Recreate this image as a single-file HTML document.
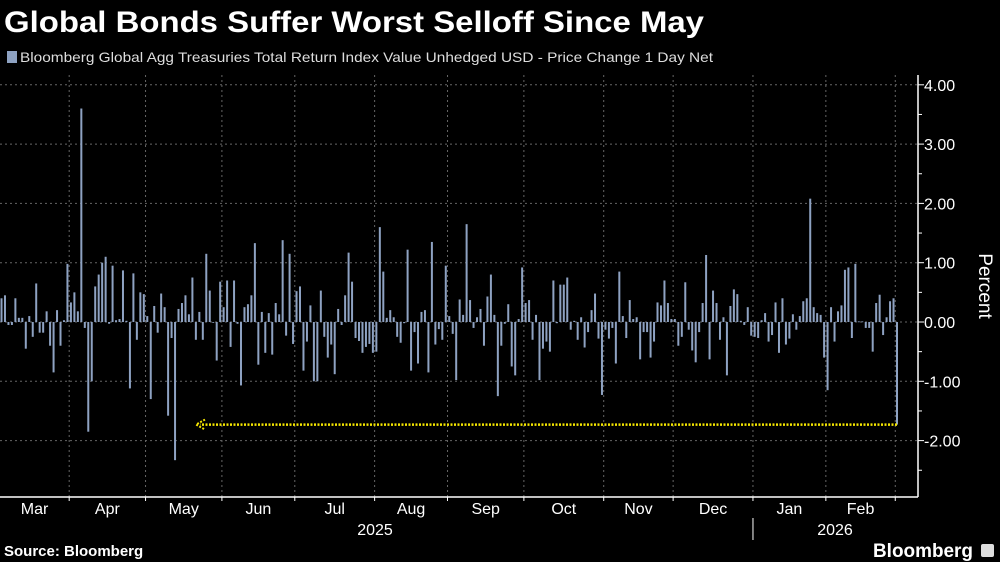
<!DOCTYPE html>
<html><head><meta charset="utf-8"><style>
html,body{margin:0;padding:0;background:#000;width:1000px;height:562px;overflow:hidden}
svg{display:block;font-family:"Liberation Sans","DejaVu Sans",sans-serif}
</style></head><body>
<svg id="chart" width="1000" height="562" viewBox="0 0 1000 562">
<text x="4" y="32" fill="#fff" font-size="30" font-weight="bold" textLength="700" lengthAdjust="spacingAndGlyphs">Global Bonds Suffer Worst Selloff Since May</text>
<rect x="7" y="51" width="10" height="12" fill="#8ea2c2"/>
<text x="20" y="62" fill="#ddd" font-size="14" textLength="693" lengthAdjust="spacingAndGlyphs">Bloomberg Global Agg Treasuries Total Return Index Value Unhedged USD - Price Change 1 Day Net</text>
<g id="grid"></g>
<g id="bars"></g>
<g id="axes"></g>
<text x="4" y="556" fill="#fff" font-size="15" font-weight="bold">Source: Bloomberg</text>
<text x="873" y="557" fill="#fff" font-size="19" font-weight="bold" textLength="100" lengthAdjust="spacingAndGlyphs">Bloomberg</text>
<rect x="981" y="544" width="13" height="13" rx="2" fill="#ddd"/>
</svg>
<script>
const values = [0.4,0.45,-0.05,-0.05,0.4,0.07,0.07,-0.45,0.1,-0.25,0.65,-0.18,-0.18,0.18,-0.4,-0.85,0.2,-0.4,0.03,0.98,0.33,0.5,0.18,3.6,-0.1,-1.85,-1.0,0.6,0.8,1.0,1.1,-0.03,0.95,0.03,0.05,0.87,0.02,-1.12,0.82,-0.3,0.5,0.47,0.1,-1.3,0.27,-0.18,0.48,
0.25,-1.58,-0.27,-2.33,0.22,0.32,0.45,0.13,0.75,-0.3,0.17,-0.3,1.15,0.53,0,-0.65,0.68,0.25,0.7,-0.42,0.7,-0.03,-1.07,0.25,0.3,0.45,1.33,-0.72,0.17,-0.52,0.15,-0.55,0.32,0.13,1.38,-0.23,1.15,-0.37,0.52,0.6,
-0.82,-0.33,0.28,-1.0,-1.0,0.53,-0.25,-0.6,-0.38,-0.88,0.22,-0.05,0.45,1.17,0.68,-0.27,-0.32,-0.52,-0.42,-0.37,-0.52,-0.5,1.6,0.85,0.07,0.2,0.08,-0.25,-0.35,-0.02,1.22,-0.82,-0.17,-0.7,0.17,0.2,-0.85,1.35,-0.38,-0.12,-0.3,0.95,0.1,-0.2,-0.98,0.38,
0.12,1.65,0.37,-0.1,0.08,0.22,-0.4,0.43,0.8,0.12,-1.25,-0.4,-0.03,0.3,-0.75,-0.9,0.05,0.92,0.32,0.37,-0.3,0.12,-0.98,-0.45,-0.33,-0.5,0.7,-0.02,0.63,0.63,0.75,-0.13,0.02,-0.3,0.08,-0.43,-0.17,0.2,0.48,-0.28,-1.23,
-0.13,-0.28,-0.1,-0.7,0.85,0.1,-0.27,0.37,0.05,0.08,-0.63,-0.17,-0.17,-0.6,-0.33,0.33,0.28,0.7,0.32,0.05,0.05,-0.4,-0.25,0.67,-0.13,-0.48,-0.68,-0.17,0.32,1.13,-0.63,0.53,0.32,-0.3,0.08,-0.9,0.27,0.55,0.47,0.02,-0.05,0.25,-0.23,-0.25,-0.27,
0.03,0.15,-0.33,-0.22,0.33,-0.52,0.4,-0.38,-0.28,0.13,-0.13,0.1,0.35,0.4,2.08,0.25,0.15,0.12,-0.6,-1.15,0.25,-0.33,0.18,0.28,0.88,0.92,-0.27,0.98,0.01,0.01,-0.1,-0.1,-0.5,0.32,0.46,-0.22,0.08,0.35,0.4,-1.73];
const yTicks = [4,3,2,1,0,-1,-2];
const yTickLabels = ["4.00","3.00","2.00","1.00","0.00","-1.00","-2.00"];
const months = ["Mar","Apr","May","Jun","Jul","Aug","Sep","Oct","Nov","Dec","Jan","Feb"];
const monthStartIdx = [0,20,42,64,85,108,129,151,174,194,217,238,258];
const years = ["2025","2026"];

const NS="http://www.w3.org/2000/svg";
const X0=1.5, X1=897, PLOT_TOP=75, PLOT_BOTTOM=497, AXIS_X=918;
function xScale(i){return X0+(X1-X0)*i/(values.length-1);}
function yScale(v){return 322-v*59.3;}
function boundaryX(m){return m===0?0:(xScale(monthStartIdx[m])+xScale(monthStartIdx[m]-1))/2;}
function mk(tag,attrs,parent){const e=document.createElementNS(NS,tag);for(const k in attrs)e.setAttribute(k,attrs[k]);parent.appendChild(e);return e;}
const grid=document.getElementById('grid'),bars=document.getElementById('bars'),axes=document.getElementById('axes');

yTicks.forEach((t,k)=>{
  const y=yScale(t);
  const g=mk('line',{x1:0,x2:AXIS_X,y1:y,y2:y,stroke:'#666','stroke-width':1,'stroke-dasharray':'2,3'},grid);
  
  
  const tk=mk('line',{x1:AXIS_X,x2:AXIS_X+6,y1:y,y2:y,stroke:'#fff','stroke-width':1},axes);
  
  
  const mt=mk('line',{x1:AXIS_X,x2:AXIS_X+4,y1:y+29.65,y2:y+29.65,stroke:'#fff','stroke-width':1},axes);
  
  
  const lb=mk('text',{x:AXIS_X+6,y:y+6,fill:'#fff','font-size':16},axes);
  lb.textContent=yTickLabels[k];
  
  
});
for(let m=1;m<monthStartIdx.length;m++){
  const x=boundaryX(m);
  const v=mk('line',{x1:x,x2:x,y1:PLOT_TOP,y2:PLOT_BOTTOM,stroke:'#666','stroke-width':1,'stroke-dasharray':'2,3'},grid);
  
  
  const t=mk('line',{x1:x,x2:x,y1:PLOT_BOTTOM,y2:PLOT_BOTTOM+4,stroke:'#fff'},axes);
  
  
}
months.forEach((mn,m)=>{
  const x=(boundaryX(m)+boundaryX(m+1))/2;
  const t=mk('text',{x:x,y:514,fill:'#fff','font-size':16,'text-anchor':'middle'},axes);
  t.textContent=mn;
  
  
});
values.forEach((v,i)=>{
  const x=xScale(i),y0=yScale(0),y=yScale(v);
  const r=mk('rect',{x:x-1,y:Math.min(y0,y),width:2,height:Math.max(0.8,Math.abs(y-y0)),fill:'#8ea2c2'},bars);
  
  
});
const last=values[values.length-1], ay=yScale(last);
const al=mk('line',{x1:xScale(values.length-1),x2:200,y1:ay,y2:ay,stroke:'#f5e600','stroke-width':2.5,'stroke-dasharray':'2,1.5'},bars);


const ah=mk('path',{d:`M205 ${ay-5} L196 ${ay} L205 ${ay+5}`,fill:'none',stroke:'#f5e600','stroke-width':2,'stroke-dasharray':'2,1.5'},bars);



const ax=mk('line',{x1:AXIS_X,x2:AXIS_X,y1:PLOT_TOP,y2:PLOT_BOTTOM,stroke:'#fff','stroke-width':1.5},axes);


const bx=mk('line',{x1:0,x2:AXIS_X,y1:PLOT_BOTTOM,y2:PLOT_BOTTOM,stroke:'#fff','stroke-width':1.5},axes);


const yl=mk('text',{x:0,y:0,fill:'#fff','font-size':19,'text-anchor':'middle',transform:'translate(979,286) rotate(90)'},axes);
yl.textContent='Percent';


const y1=mk('text',{x:375,y:535,fill:'#fff','font-size':16,'text-anchor':'middle'},axes);
y1.textContent=years[0];


const y2=mk('text',{x:835,y:535,fill:'#fff','font-size':16,'text-anchor':'middle'},axes);
y2.textContent=years[1];


const sepX=boundaryX(10);
const sep=mk('line',{x1:sepX,x2:sepX,y1:518,y2:540,stroke:'#aaa','stroke-width':1.5},axes);


</script>
</body></html>
